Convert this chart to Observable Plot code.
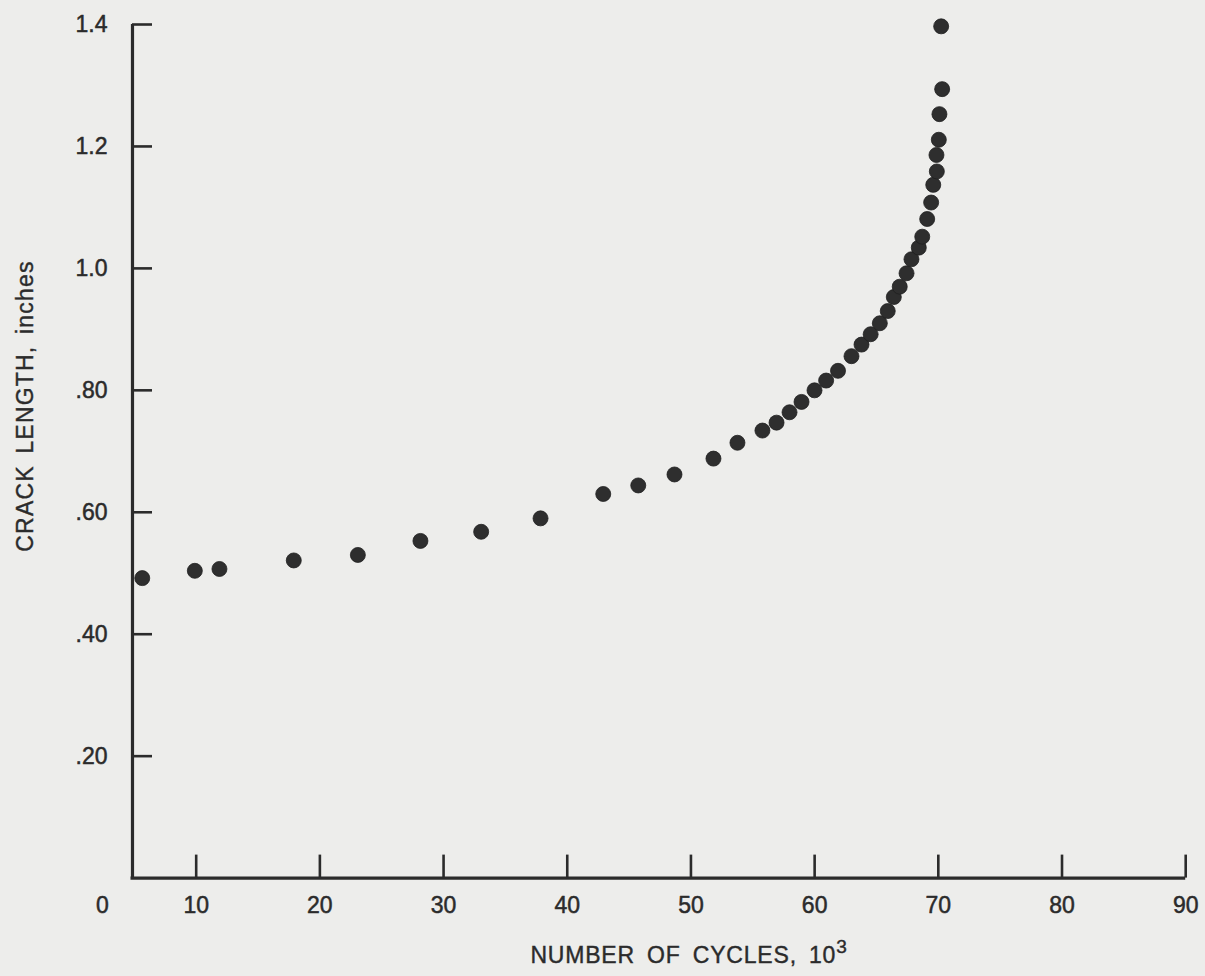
<!DOCTYPE html>
<html>
<head>
<meta charset="utf-8">
<script src="https://cdn.jsdelivr.net/npm/d3@7"></script>
<script src="https://cdn.jsdelivr.net/npm/@observablehq/plot@0.6"></script>
<style>
  html, body { margin: 0; padding: 0; background: #ededeb; }
  #chart svg { display: block; }
</style>
</head>
<body>
<div id="chart"></div>
<script>
// Main series: crack length vs number of cycles (10^3)
const cycles = [5.64, 9.89, 11.88, 17.89, 23.07, 28.13, 33.04, 37.84, 42.91, 45.74,
  48.67, 51.82, 53.76, 55.78, 56.92, 57.97, 58.94, 59.99, 60.93, 61.89,
  62.98, 63.79, 64.53, 65.27, 65.91, 66.40, 66.88, 67.43, 67.83, 68.42,
  68.70, 69.10, 69.42, 69.59, 69.88, 69.85, 70.04, 70.09, 70.31, 70.23];
const crack = [0.492, 0.504, 0.507, 0.521, 0.530, 0.553, 0.568, 0.590, 0.630, 0.644,
  0.662, 0.688, 0.714, 0.734, 0.747, 0.764, 0.781, 0.800, 0.816, 0.832,
  0.856, 0.875, 0.892, 0.910, 0.930, 0.953, 0.970, 0.992, 1.015, 1.034,
  1.052, 1.081, 1.108, 1.137, 1.159, 1.186, 1.211, 1.253, 1.294, 1.397];

const xTickValues = [10, 20, 30, 40, 50, 60, 70, 80, 90];
const xTickLabels = ["10", "20", "30", "40", "50", "60", "70", "80", "90"];
const xOriginLabel = "0";
const yTickValues = [0.2, 0.4, 0.6, 0.8, 1.0, 1.2, 1.4];
const yTickLabels = [".20", ".40", ".60", ".80", "1.0", "1.2", "1.4"];
const xTitle = "NUMBER OF CYCLES, 10";
const xTitleSup = "3";
const yTitle = "CRACK LENGTH, inches";

const xAxisStart = 4.85;   // left end of the drawn axes (cycles, 10^3)
const xMax = 90, yMax = 1.4;

const points = cycles.map((c, i) => ({cycles: c, crack: crack[i]}));
const ink = "#2b2b2b";
const font = "'Liberation Sans', Arial, Helvetica, sans-serif";

const W = 1205, H = 976;
const mL = 72, mR = 19.8, mT = 24, mB = 98.4;
const pxPerX = (W - mL - mR) / xMax;
const pxPerY = (H - mT - mB) / yMax;

const labelStyle = {fontSize: 23, fill: ink, stroke: ink, strokeWidth: 0.5};

const plot = Plot.plot({
  width: W, height: H,
  marginLeft: mL, marginRight: mR, marginTop: mT, marginBottom: mB,
  x: {domain: [0, xMax], axis: null},
  y: {domain: [0, yMax], axis: null},
  style: {background: "transparent", fontFamily: font, color: ink},
  marks: [
    // axes lines
    Plot.ruleX([xAxisStart], {y1: 0, y2: yMax, stroke: ink, strokeWidth: 3.2}),
    Plot.ruleY([0], {x1: xAxisStart - 1.5 / pxPerX, x2: xMax, stroke: ink, strokeWidth: 3.2}),
    // y ticks (inward)
    Plot.ruleY(yTickValues, {x1: xAxisStart, x2: xAxisStart + 20 / pxPerX, stroke: ink, strokeWidth: 2.6}),
    // x ticks (upward)
    Plot.ruleX(xTickValues, {y1: 0, y2: 23 / pxPerY, stroke: ink, strokeWidth: 2.6}),
    // tick labels
    Plot.text(yTickValues, {x: xAxisStart, y: d => d, text: (d, i) => yTickLabels[i],
      textAnchor: "end", dx: -25, ...labelStyle}),
    Plot.text(xTickValues, {x: d => d, y: 0, text: (d, i) => xTickLabels[i],
      dy: 28, ...labelStyle}),
    Plot.text([xOriginLabel], {x: xAxisStart, y: 0, text: d => d,
      dx: -30, dy: 28, ...labelStyle}),
    // data
    Plot.dot(points, {x: "cycles", y: "crack", r: 7.5, fill: "#2e2e2e", stroke: "#1f1f1f", strokeWidth: 0.8})
  ]
});

document.getElementById("chart").appendChild(plot);

// axis titles (with a raised superscript)
const svg = d3.select(plot);
const xt = svg.append("text")
  .attr("x", 689).attr("y", 963)
  .attr("text-anchor", "middle")
  .attr("font-family", font).attr("font-size", 23)
  .attr("letter-spacing", 0.8).attr("word-spacing", 5)
  .attr("fill", ink).attr("stroke", ink).attr("stroke-width", 0.4);
xt.append("tspan").text(xTitle);
xt.append("tspan").attr("dy", -10).attr("font-size", 19).text(xTitleSup);

svg.append("text")
  .attr("transform", "translate(33,406) rotate(-90)")
  .attr("text-anchor", "middle")
  .attr("font-family", font).attr("font-size", 23)
  .attr("letter-spacing", 1.2).attr("word-spacing", 4)
  .attr("fill", ink).attr("stroke", ink).attr("stroke-width", 0.4)
  .text(yTitle);
</script>
</body>
</html>
